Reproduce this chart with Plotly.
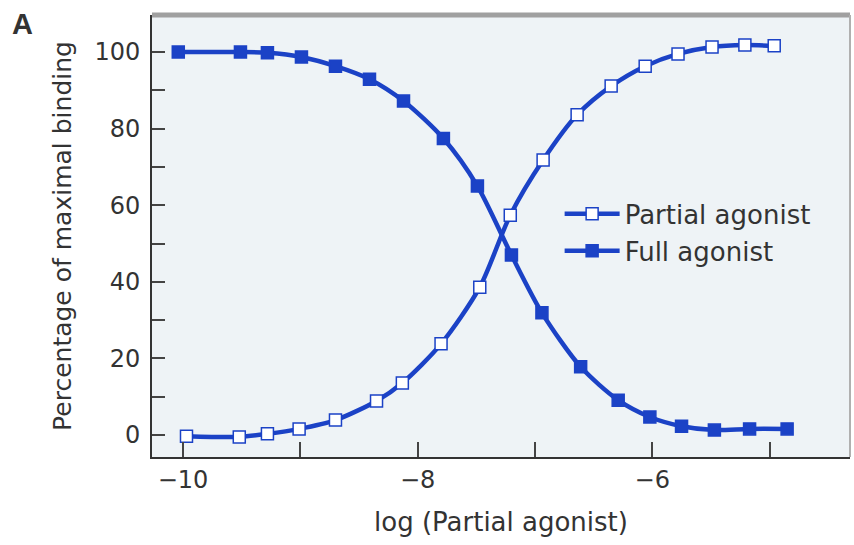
import plotly.graph_objects as go

# Data
full_x = [-10.04, -9.51, -9.28, -8.99, -8.70, -8.41, -8.12, -7.78, -7.49, -7.20,
          -6.94, -6.61, -6.29, -6.02, -5.75, -5.47, -5.17, -4.85]
full_y = [100.0, 100.0, 99.8, 98.7, 96.3, 92.9, 87.2, 77.4, 65.0, 47.0,
          31.9, 17.8, 9.1, 4.7, 2.3, 1.3, 1.6, 1.6]

partial_x = [-9.97, -9.52, -9.28, -9.01, -8.70, -8.35, -8.13, -7.80, -7.47, -7.21,
             -6.93, -6.64, -6.35, -6.06, -5.78, -5.49, -5.21, -4.96]
partial_y = [-0.3, -0.5, 0.3, 1.6, 3.9, 8.9, 13.6, 23.8, 38.6, 57.4,
             71.8, 83.6, 91.1, 96.3, 99.5, 101.3, 101.8, 101.6]

x_tickvals = [-10, -8, -6]
x_ticktext = ["\u221210", "\u22128", "\u22126"]
y_tickvals = [0, 20, 40, 60, 80, 100]

BLUE = "#1b42c6"
FONT = "DejaVu Sans"

fig = go.Figure()
fig.add_trace(go.Scatter(
    x=partial_x, y=partial_y, name="Partial agonist", mode="lines+markers",
    line=dict(color=BLUE, width=4.5, shape="spline", smoothing=0.8),
    marker=dict(symbol="square", size=12, color="white", line=dict(color=BLUE, width=1.5)),
))
fig.add_trace(go.Scatter(
    x=full_x, y=full_y, name="Full agonist", mode="lines+markers",
    line=dict(color=BLUE, width=4.5, shape="spline", smoothing=0.8),
    marker=dict(symbol="square", size=12, color=BLUE, line=dict(color=BLUE, width=1.5)),
))

fig.update_layout(
    width=854, height=545,
    margin=dict(l=152, r=4, t=15, b=88),
    paper_bgcolor="white",
    plot_bgcolor="#eef3f6",
    font=dict(family=FONT, color="#333333", size=24),
    showlegend=True,
    legend=dict(x=0.584, y=0.603, xanchor="left", yanchor="top",
                bgcolor="rgba(0,0,0,0)", font=dict(size=26, color="#333333"),
                tracegroupgap=0, itemwidth=55),
    xaxis=dict(
        range=[-10.264, -4.314], tickvals=x_tickvals, ticktext=x_ticktext,
        ticks="inside", ticklen=15, tickwidth=1.5, tickcolor="#444",
        minor=dict(dtick=1, tick0=-10, ticks="inside", ticklen=15, tickwidth=1.5, tickcolor="#444"),
        showline=True, linecolor="#333", linewidth=2, showgrid=False, zeroline=False,
        tickfont=dict(size=24), ticklabelstandoff=0,
        title=dict(text="log (Partial agonist)", font=dict(size=26), standoff=20),
    ),
    yaxis=dict(
        range=[-5.74, 109.66], tickvals=y_tickvals,
        ticks="inside", ticklen=13, tickwidth=1.5, tickcolor="#444",
        minor=dict(dtick=10, tick0=0, ticks="inside", ticklen=13, tickwidth=1.5, tickcolor="#444"),
        showline=True, linecolor="#333", linewidth=2, showgrid=False, zeroline=False,
        tickfont=dict(size=24), ticklabelstandoff=5,
        title=dict(text="Percentage of maximal binding", font=dict(size=25), standoff=16),
    ),
)

# top grey border and right thin border
fig.add_shape(type="line", xref="paper", yref="paper", x0=0, x1=1, y0=1, y1=1,
              line=dict(color="#a0a0a0", width=5))
fig.add_shape(type="line", xref="paper", yref="paper", x0=1, x1=1, y0=0, y1=1,
              line=dict(color="#b0b0b0", width=2))

fig.add_annotation(text="<b>A</b>", xref="paper", yref="paper", x=-0.203, y=0.98,
                   xanchor="left", yanchor="middle", showarrow=False,
                   font=dict(size=29, color="#333333", family="Liberation Sans"))

fig.write_html("out.html", config={"displayModeBar": False},
               post_script="document.body.style.margin='0';")
